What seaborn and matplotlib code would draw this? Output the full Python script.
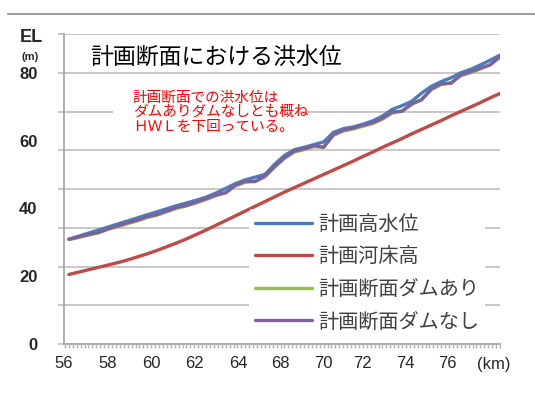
import matplotlib
matplotlib.use("Agg")
import matplotlib.pyplot as plt
from matplotlib.patches import Rectangle
from matplotlib.ticker import MultipleLocator
import numpy as np
import pandas as pd
import seaborn as sns

# 距離標 (km), 0.5 km 間隔
km = [56.0, 56.5, 57.0, 57.5, 58.0, 58.5, 59.0, 59.5, 60.0, 60.5,
      61.0, 61.5, 62.0, 62.5, 63.0, 63.5, 64.0, 64.5, 65.0, 65.5,
      66.0, 66.5, 67.0, 67.5, 68.0, 68.5, 69.0, 69.5, 70.0, 70.5,
      71.0, 71.5, 72.0, 72.5, 73.0, 73.5, 74.0, 74.5, 75.0, 75.5,
      76.0, 76.5, 77.0, 77.5, 78.0]

hwl = [30.9, 31.8, 32.7, 33.6, 34.5, 35.4, 36.3, 37.2, 38.1, 39.0,
       39.9, 40.8, 41.6, 42.4, 43.3, 44.5, 45.9, 47.3, 48.4, 49.2,
       50.0, 53.0, 55.6, 57.3, 58.0, 58.8, 59.6, 62.4, 63.5, 64.0,
       64.8, 65.8, 67.2, 69.2, 70.3, 71.6, 74.0, 76.0, 77.4, 78.5,
       80.0, 81.0, 82.3, 83.7, 85.2]

bed = [20.5, 21.2, 21.9, 22.6, 23.3, 24.0, 24.8, 25.7, 26.6, 27.6,
       28.7, 29.8, 31.0, 32.3, 33.6, 35.0, 36.4, 37.8, 39.2, 40.6,
       42.0, 43.4, 44.8, 46.1, 47.4, 48.7, 50.0, 51.3, 52.6, 53.9,
       55.3, 56.6, 58.0, 59.3, 60.6, 62.0, 63.3, 64.6, 65.9, 67.3,
       68.6, 69.9, 71.2, 72.6, 73.9]

dam_ari = [30.8, 31.4, 32.1, 32.8, 33.8, 34.6, 35.5, 36.3, 37.3, 38.0,
           39.0, 40.0, 40.7, 41.6, 42.6, 43.7, 44.6, 46.6, 47.7, 48.0,
           49.2, 52.1, 54.7, 56.6, 57.3, 58.2, 58.1, 61.5, 62.8, 63.4,
           64.2, 65.0, 66.3, 68.1, 68.8, 70.6, 72.2, 75.0, 76.5, 77.0,
           79.1, 80.0, 81.1, 82.4, 84.6]

dam_nashi = [30.9, 31.6, 32.3, 32.9, 34.0, 34.9, 35.8, 36.6, 37.6, 38.2,
             39.3, 40.3, 40.9, 41.9, 42.9, 44.0, 44.6, 46.9, 48.0, 47.9,
             49.6, 52.4, 55.0, 56.9, 57.6, 58.5, 58.0, 61.8, 63.1, 63.7,
             64.5, 65.3, 66.6, 68.4, 68.6, 70.9, 72.0, 75.3, 76.8, 76.9,
             79.4, 80.3, 81.4, 82.3, 84.8]

series = ["計画高水位", "計画河床高", "計画断面ダムあり", "計画断面ダムなし"]
colors = ["#4a7ebb", "#be4b48", "#98b954", "#7d60a0"]

x_tick_pos = [55.75, 57.97, 60.19, 62.4, 64.63, 66.8, 69.0, 71.0, 73.15, 75.3, 77.7]
x_tick_labels = ["56", "58", "60", "62", "64", "68", "70", "72", "74", "76", "(km)"]
y_tick_vals = [0, 20, 40, 60, 80]

df = pd.DataFrame({"km": km, series[0]: hwl, series[1]: bed,
                   series[2]: dam_ari, series[3]: dam_nashi})

sns.set_style("white")
plt.rcParams["font.family"] = ["Liberation Sans", "Noto Sans CJK JP", "DejaVu Sans"]

fig = plt.figure(figsize=(5.35, 4.01), dpi=100)
ax = fig.add_axes([64 / 535, 57 / 401, 436 / 535, 310 / 401])

for name, c in zip(series, colors):
    sns.lineplot(data=df, x="km", y=name, color=c, lw=2.4, label=name, ax=ax)

ax.set_xlim(56, 78)
ax.set_ylim(0, 640 / 7)
ax.set_xlabel("")
ax.set_ylabel("")

# y: gridlines every 80/7, labels 0..80
grid_pos = np.arange(9) * 80 / 7
ax.set_yticks(grid_pos)
ax.set_yticklabels([])
ax.set_yticks(y_tick_vals, labels=[str(v) for v in y_tick_vals], minor=True)
ax.yaxis.remove_overlapping_locs = False
ax.grid(axis="y", which="major", color="#c4c4c4", lw=1.3)
ax.tick_params(axis="y", which="major", left=True, length=4.3, width=1.3,
               color="#c4c4c4", direction="out")
ax.tick_params(axis="y", which="minor", left=True, length=0, pad=19,
               labelsize=12)
for t in ax.get_yticklabels(minor=True):
    t.set_fontweight("bold")

# x: minor ticks every 0.2 km
ax.set_xticks(x_tick_pos, labels=x_tick_labels)
ax.xaxis.set_minor_locator(MultipleLocator(0.2))
ax.xaxis.remove_overlapping_locs = False
ax.tick_params(axis="x", which="major", bottom=True, length=0, pad=9, labelsize=12)
ax.tick_params(axis="x", which="minor", bottom=True, length=3, width=1,
               color="#b0b0b0", direction="out")

for s in ["top", "right"]:
    ax.spines[s].set_visible(False)
for s in ["left", "bottom"]:
    ax.spines[s].set_color("#a8a8a8")
    ax.spines[s].set_linewidth(1.3)

leg = ax.legend(loc="upper left", bbox_to_anchor=(0.424, 0.435), fontsize=14.5,
                frameon=True, facecolor="white", edgecolor="none", framealpha=1,
                handlelength=2.84, handletextpad=0.3, labelspacing=0.66,
                borderpad=0.3, borderaxespad=0)
for t in leg.get_texts():
    t.set_color("#404040")
for h in leg.get_lines():
    h.set_linewidth(2.4)

ax.text(0.06, 0.925, "計画断面における洪水位", transform=ax.transAxes,
        fontsize=16.5, va="center", ha="left", color="black")

# white box behind the note hides the gridline
ax.add_patch(Rectangle((0.112, 0.706), 0.429, 0.13, transform=ax.transAxes,
                       fc="white", ec="none", zorder=2))
ax.text(0.158, 0.818, "計画断面での洪水位は\nダムありダムなしとも概ね\nＨＷＬを下回っている。",
        transform=ax.transAxes, fontsize=10.5, color="#ff0000", va="top", ha="left",
        linespacing=1.05, zorder=3)

fig.text(31 / 535, 1 - 37 / 401, "EL", fontsize=13, fontweight="bold",
         ha="center", va="center")
fig.text(30 / 535, 1 - 57 / 401, "(m)", fontsize=8, fontweight="bold",
         ha="center", va="center")
fig.add_artist(plt.Line2D([8 / 535, 1], [1 - 14 / 401, 1 - 14 / 401],
                          color="#a0a0a0", lw=1.5, transform=fig.transFigure))

fig.savefig("out.png", dpi=100)
plt.close()
